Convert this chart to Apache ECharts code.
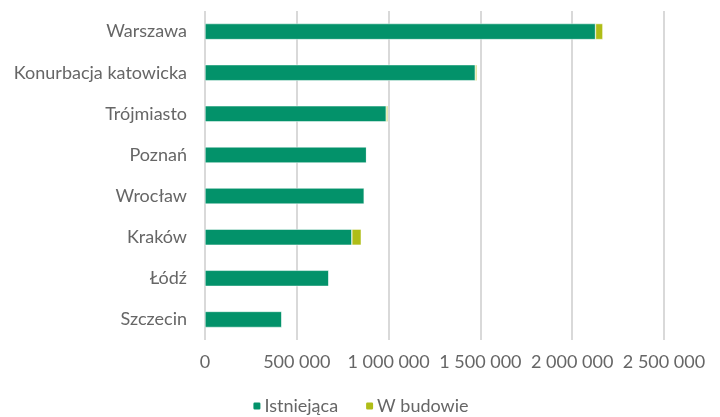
<!DOCTYPE html>
<html>
<head>
    <meta charset="utf-8" />
    <title>Powierzchnia biurowa</title>
    <script src="https://cdn.jsdelivr.net/npm/echarts@6/dist/echarts.min.js"></script>
    <style>
        html, body { margin: 0; padding: 0; background: #fff; }
        #main { width: 720px; height: 417px; }
    </style>
</head>
<body>
    <div id="main"></div>
</body>
<script>
    // dane
    var cities = ['Warszawa', 'Konurbacja katowicka', 'Trójmiasto', 'Poznań', 'Wrocław', 'Kraków', 'Łódź', 'Szczecin'];
    var existing = [2127000, 1472000, 987000, 880000, 867000, 800000, 675000, 419000];
    var underConstruction = [40000, 9000, 9000, 0, 3000, 51000, 0, 0];
    var seriesNames = ['Istniejąca', 'W budowie'];

    var font = 'Lato';
    var textColor = '#666666';

    var myChart = echarts.init(document.getElementById('main'));

    // formatowanie liczb ze spacją jako separatorem tysięcy
    function fmt(v) {
        return String(v).replace(/\B(?=(\d{3})+(?!\d))/g, ' ');
    }

    var option = {
        animation: false,
        textStyle: { fontFamily: font },
        grid: {
            left: 205,
            right: 56,
            top: 11,
            bottom: 77
        },
        legend: {
            bottom: -3,
            left: 'center',
            itemWidth: 9,
            itemHeight: 9,
            itemGap: 26,
            textStyle: { color: textColor, fontSize: 18, fontFamily: font, padding: [0, 0, 0, -2] },
            data: seriesNames
        },
        xAxis: {
            type: 'value',
            min: 0,
            max: 2500000,
            interval: 500000,
            axisLine: { show: false },
            axisTick: { show: false },
            splitLine: { lineStyle: { color: '#d9d9d9', width: 2 } },
            axisLabel: {
                color: textColor,
                fontSize: 18,
                margin: 13,
                formatter: fmt
            }
        },
        yAxis: {
            type: 'category',
            inverse: true,
            data: cities,
            axisLine: { show: false },
            axisTick: { show: false },
            axisLabel: {
                color: textColor,
                fontSize: 18,
                margin: 18
            }
        },
        series: [
            {
                name: seriesNames[0],
                type: 'bar',
                stack: 'a',
                barWidth: 16,
                data: existing,
                itemStyle: { color: '#03926a', borderColor: '#ffffff', borderWidth: 0.5 }
            },
            {
                name: seriesNames[1],
                type: 'bar',
                stack: 'a',
                barWidth: 16,
                data: underConstruction,
                itemStyle: { color: '#afbd17', borderColor: '#ffffff', borderWidth: 0.5 }
            }
        ]
    };

    myChart.setOption(option);
</script>
</html>
